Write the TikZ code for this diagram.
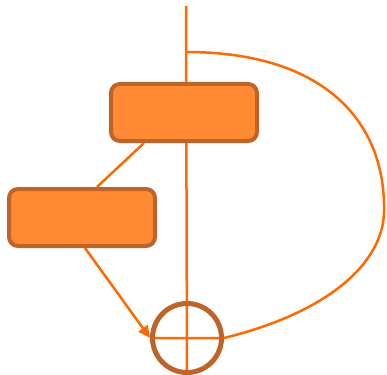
\documentclass[tikz,border=0pt]{standalone}
\usetikzlibrary{arrows.meta,backgrounds}

\definecolor{boxfill}{HTML}{FF8A33}
\definecolor{boxrim}{HTML}{BE6428}
\definecolor{linecol}{HTML}{FF6A00}

\begin{document}
\begin{tikzpicture}[x=1pt, y=-1pt,
    block/.style={draw=boxrim, fill=boxfill, line width=4pt, rounded corners=9pt,
                  minimum width=146pt, minimum height=57pt, inner sep=0pt},
    ring/.style={circle, draw=boxrim, line width=5pt, minimum size=69pt, inner sep=0pt},
    wire/.style={draw=linecol, line width=2.5pt}]

    % Fix the frame to the size of the original picture (y runs downwards)
    \useasboundingbox (0,0) rectangle (387,374);

    % Points on the long vertical trunk
    \coordinate (top) at (186,6);
    \coordinate (fork) at (186,52);

    % 1. The two boxes and the ring
    \node[block] (upper) at (184,112.5) {};
    \node[block] (lower) at (82,217.5) {};
    \node[ring] (sink) at (187,338) {};

    % 2. Connectors, kept behind the nodes
    \begin{scope}[on background layer]
        % trunk from the top down to the ring
        \draw[wire] (top) -- (sink.south);
        % the wide bend round the right side, ending across the ring
        \draw[wire] (fork) .. controls (328,52) and (386,125) .. (384,212)
                    .. controls (383,262) and (330,312) .. (sink.east) -- (sink.west);
        % upper box to lower box
        \draw[wire] ([xshift=-40pt]upper.south) -- ([xshift=15pt]lower.north);
        % lower box into the ring
        \draw[wire, -{Triangle[length=12pt,width=11pt]}] ([xshift=3pt]lower.south) -- (sink.west);
    \end{scope}

\end{tikzpicture}
\end{document}
